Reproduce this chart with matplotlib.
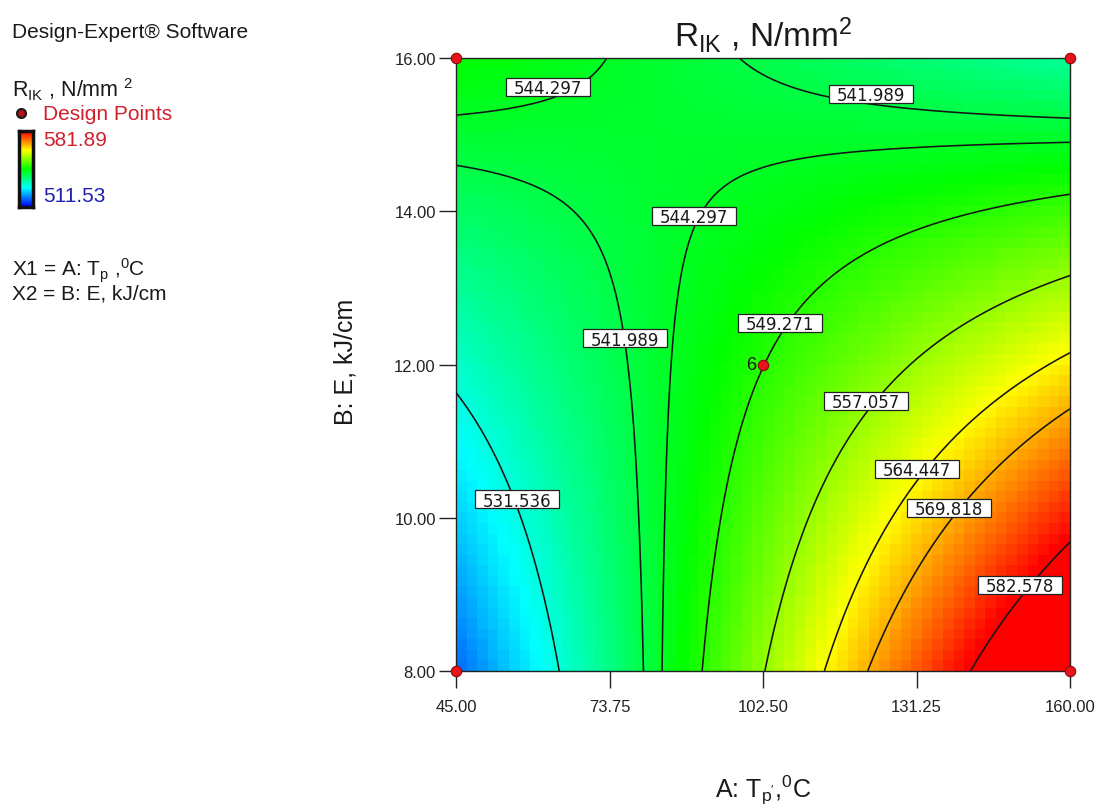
import numpy as np
import matplotlib
matplotlib.use("Agg")
import matplotlib.pyplot as plt
from matplotlib.colors import LinearSegmentedColormap
from matplotlib.patches import Rectangle

plt.rcParams['font.family'] = ['Liberation Sans', 'DejaVu Sans']
plt.rcParams['mathtext.fontset'] = 'custom'
plt.rcParams['mathtext.rm'] = 'Liberation Sans'
plt.rcParams['mathtext.it'] = 'Liberation Sans:italic'
plt.rcParams['mathtext.bf'] = 'Liberation Sans:bold'

# ---------------- data ----------------
A_range = [45.0, 160.0]          # A: T_p, 0C
B_range = [8.0, 16.0]            # B: E, kJ/cm
# 2FI response-surface model in coded factors: R = b0 + bA*A + bB*B + bAB*A*B
model_terms = ["Intercept", "A", "B", "AB"]
model_coefs = [549.2, 16.375, -7.625, -21.725]
contour_levels = [531.536, 541.989, 544.297, 549.271, 557.057, 564.447, 569.818, 582.578]
design_A = [45.0, 160.0, 45.0, 160.0, 102.5]
design_B = [8.0, 8.0, 16.0, 16.0, 12.0]
design_reps = [1, 1, 1, 1, 6]
x_ticks = [45.00, 73.75, 102.50, 131.25, 160.00]
y_ticks = [8.00, 10.00, 12.00, 14.00, 16.00]
color_low = 511.53
color_high = 581.89

# label placement (layout)
label_A = [56.5, 76.65, 62.3, 89.5, 105.6, 121.8, 131.3, 137.4, 150.6, 122.7]
label_B = [10.24, 12.34, 15.62, 13.94, 12.54, 11.53, 10.64, 10.13, 9.12, 15.53]
label_level = [531.536, 541.989, 544.297, 544.297, 549.271, 557.057, 564.447, 569.818, 582.578, 541.989]

W, H = 1099, 812
fig = plt.figure(figsize=(W / 100, H / 100), dpi=100)


def fx(x):
    return x / W


def fy(y):
    return 1 - y / H


ax_l, ax_r, ax_t, ax_b = 456, 1070, 59, 672
ax = fig.add_axes([fx(ax_l), fy(ax_b), (ax_r - ax_l) / W, (ax_b - ax_t) / H])


def response(a, b):
    ca = (a - (A_range[0] + A_range[1]) / 2) / ((A_range[1] - A_range[0]) / 2)
    cb = (b - (B_range[0] + B_range[1]) / 2) / ((B_range[1] - B_range[0]) / 2)
    b0, bA, bB, bAB = model_coefs
    return b0 + bA * ca + bB * cb + bAB * ca * cb


cmap = LinearSegmentedColormap.from_list(
    "de", ["#0000ff", "#00ffff", "#00ff00", "#ffff00", "#ff0000"])

# pixelated colour field
n_cells = 58
ea = np.linspace(A_range[0], A_range[1], n_cells + 1)
eb = np.linspace(B_range[0], B_range[1], n_cells + 1)
ca = (ea[:-1] + ea[1:]) / 2
cb = (eb[:-1] + eb[1:]) / 2
CA, CB = np.meshgrid(ca, cb)
ax.pcolormesh(ea, eb, response(CA, CB), cmap=cmap, vmin=color_low,
              vmax=color_high, shading='flat', zorder=1)

# smooth contour lines
fa = np.linspace(A_range[0], A_range[1], 400)
fb = np.linspace(B_range[0], B_range[1], 400)
FA, FB = np.meshgrid(fa, fb)
ax.contour(FA, FB, response(FA, FB), levels=contour_levels,
           colors='#151515', linewidths=1.15, zorder=2)

ax.set_xlim(A_range)
ax.set_ylim(B_range)

# contour labels in boxes
px_per_A = (ax_r - ax_l) / (A_range[1] - A_range[0])
px_per_B = (ax_b - ax_t) / (B_range[1] - B_range[0])
box_w = 84 / px_per_A
box_h = 18 / px_per_B
for a, b, lev in zip(label_A, label_B, label_level):
    ax.add_patch(Rectangle((a - box_w / 2, b - box_h / 2), box_w, box_h,
                           facecolor='white', edgecolor='#222222', lw=0.9,
                           zorder=4))
    ax.text(a, b - 6.2 / px_per_B, f"{lev:.3f}", ha='center', va='baseline',
            fontsize=12, family='DejaVu Sans', color='#1a1a1a', zorder=5)

# design points
ax.plot(design_A, design_B, 'o', ms=7.5, mfc='#e8141c', mec='#8a0a0a',
        mew=0.8, clip_on=False, zorder=6)
for a, b, r in zip(design_A, design_B, design_reps):
    if r > 1:
        ax.text(a - 7 / px_per_A, b, str(r), ha='right', va='center',
                fontsize=13, color='#1a1a1a', zorder=6)

# axes styling
for s in ax.spines.values():
    s.set_linewidth(1.0)
    s.set_color('#222222')
ax.set_xticks(x_ticks)
ax.set_yticks(y_ticks)
ax.set_xticklabels([f"{v:.2f}" for v in x_ticks])
ax.set_yticklabels([f"{v:.2f}" for v in y_ticks])
ax.tick_params(axis='both', direction='out', length=12.5, width=1.0,
               labelsize=12, colors='#222222')
ax.tick_params(axis='x', pad=8)
ax.tick_params(axis='y', pad=2)

# axis titles
fig.text(fx(763), fy(790), r"A: T$_{\mathrm{p'}}$,$^{0}$C", ha='center',
         va='center', fontsize=18, color='#1a1a1a')
fig.text(fx(345), fy(362), "B: E, kJ/cm", ha='center', va='center',
         rotation=90, fontsize=18, color='#1a1a1a')
fig.text(fx(763), fy(47), r"R$_{\mathrm{IK}}$ , N/mm$^{2}$", ha='center',
         va='baseline', fontsize=24, color='#1a1a1a')

# left legend block
fig.text(fx(12), fy(33), "Design-Expert\u00ae Software", ha='left',
         va='center', fontsize=15, color='#1a1a1a')
fig.text(fx(12), fy(90), r"R$_{\mathrm{IK}}$ , N/mm $^{2}$", ha='left',
         va='center', fontsize=15.5, color='#1a1a1a')
fig.lines.append(plt.Line2D([fx(21)], [fy(114)], marker='o', ms=6.5,
                            mfc='#b0101a', mec='#1a1a1a', mew=1.5,
                            transform=fig.transFigure))
fig.text(fx(43), fy(114), "Design Points", ha='left', va='center',
         fontsize=15, color='#d0202c')

cax = fig.add_axes([fx(19), fy(208), 14 / W, 76 / H])
grad = np.linspace(color_high, color_low, 100).reshape(-1, 1)
cax.imshow(grad, aspect='auto', cmap=cmap, vmin=color_low, vmax=color_high)
cax.set_xticks([])
cax.set_yticks([])
for s in cax.spines.values():
    s.set_linewidth(2.5)
    s.set_color('#111111')
fig.text(fx(43), fy(141), f"{color_high:.2f}", ha='left', va='center',
         fontsize=15, color='#d0202c')
fig.text(fx(43), fy(196), f"{color_low:.2f}", ha='left', va='center',
         fontsize=15, color='#2020b0')

fig.text(fx(12), fy(280),
         "X1 = A: T$_{\\mathrm{p}}$ ,$^{0}$C\nX2 = B: E, kJ/cm",
         ha='left', va='center', fontsize=15, color='#1a1a1a',
         linespacing=1.0)

fig.savefig("out.png", dpi=100, facecolor='white')
